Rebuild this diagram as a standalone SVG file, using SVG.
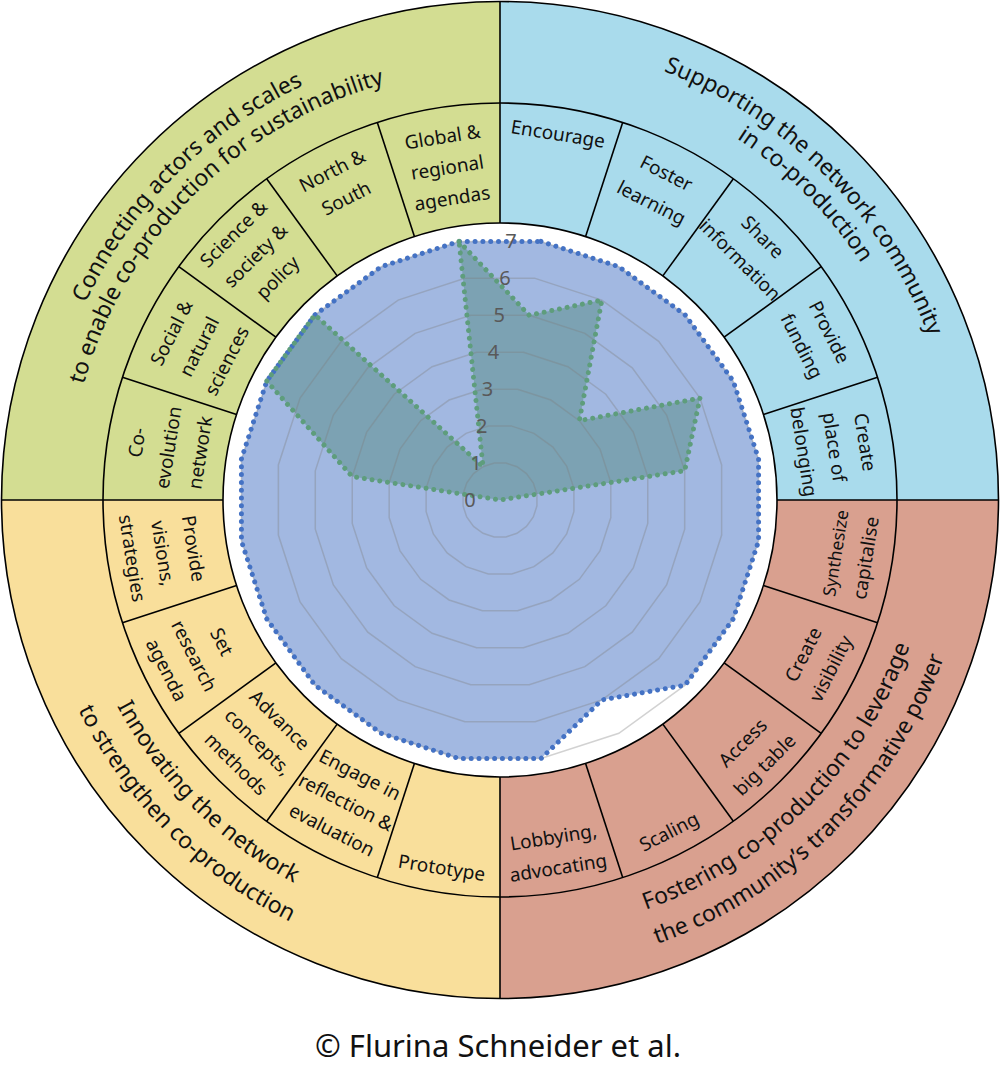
<svg xmlns="http://www.w3.org/2000/svg" width="1000" height="1067" viewBox="0 0 1000 1067">
<style>
text { font-family: "Noto Sans", "Open Sans", sans-serif; fill: #111; }
.seg { font-size: 19px; text-anchor: middle; }
.ttl { font-size: 23px; text-anchor: middle; }
.ax { font-size: 20px; fill: #595959; text-anchor: middle; }
.ring { fill: none; stroke: #000; stroke-width: 1.6; }
.div { stroke: #000; stroke-width: 1.6; }
.grid { fill: none; stroke: #7f7f7f; stroke-opacity: 0.35; stroke-width: 1.5; }
.dotb { fill: none; stroke: #4472c4; stroke-width: 5; stroke-dasharray: 0.01 7.8; stroke-linecap: round; }
.dotg { fill: none; stroke: #5e9d7c; stroke-width: 5; stroke-dasharray: 0.01 7.8; stroke-linecap: round; }
</style>
<defs>
<path id="p20" vector-effect="non-scaling-stroke" d="M15.643,-98.769 L45.399,-89.101 L70.711,-70.711 L89.101,-45.399 L98.769,-15.643 L98.769,15.643 L89.101,45.399 L70.711,70.711 L45.399,89.101 L15.643,98.769 L-15.643,98.769 L-45.399,89.101 L-70.711,70.711 L-89.101,45.399 L-98.769,15.643 L-98.769,-15.643 L-89.101,-45.399 L-70.711,-70.711 L-45.399,-89.101 L-15.643,-98.769 Z"/>
<line id="tk" x1="500" y1="223" x2="500" y2="103"/>
<line id="qd" x1="500" y1="223" x2="500" y2="1.5"/>
<path id="arcG1" d="M41,500 A459,459 0 0 1 500,41"/>
<path id="arcG2" d="M68,500 A432,432 0 0 1 500,68"/>
<path id="arcB1" d="M500,41 A459,459 0 0 1 959,500"/>
<path id="arcB2" d="M500,68 A432,432 0 0 1 932,500"/>
<path id="arcR1" d="M500,935 A435,435 0 0 0 935,500"/>
<path id="arcR2" d="M500,971 A471,471 0 0 0 971,500"/>
<path id="arcY1" d="M65,500 A435,435 0 0 0 500,935"/>
<path id="arcY2" d="M29,500 A471,471 0 0 0 500,971"/>
</defs>

<g id="quadrants">
<g id="q-connecting">
<path d="M500,500 L1.5,500 A498.5,498.5 0 0 1 500,1.5 Z" fill="#d3dd92"/>
<text class="ttl"><textPath href="#arcG1" startOffset="50%">Connecting actors and scales</textPath></text>
<text class="ttl"><textPath href="#arcG2" startOffset="50%">to enable co-production for sustainability</textPath></text>
</g>
<g id="q-supporting">
<path d="M500,500 L500,1.5 A498.5,498.5 0 0 1 998.5,500 Z" fill="#a9dbec"/>
<text class="ttl"><textPath href="#arcB1" startOffset="50%">Supporting the network community</textPath></text>
<text class="ttl"><textPath href="#arcB2" startOffset="50%">in co-production</textPath></text>
</g>
<g id="q-fostering">
<path d="M500,500 L998.5,500 A498.5,498.5 0 0 1 500,998.5 Z" fill="#d9a08f"/>
<text class="ttl"><textPath href="#arcR1" startOffset="50%">Fostering co-production to leverage</textPath></text>
<text class="ttl"><textPath href="#arcR2" startOffset="50%">the community’s transformative power</textPath></text>
</g>
<g id="q-innovating">
<path d="M500,500 L500,998.5 A498.5,498.5 0 0 1 1.5,500 Z" fill="#f9df9b"/>
<text class="ttl"><textPath href="#arcY1" startOffset="50%">Innovating the network</textPath></text>
<text class="ttl"><textPath href="#arcY2" startOffset="50%">to strengthen co-production</textPath></text>
</g>
</g>

<g id="rings">
<circle class="ring" cx="500" cy="500" r="498.5"/>
<circle class="ring" cx="500" cy="500" r="397"/>
<circle cx="500" cy="500" r="277" fill="#fff" stroke="#000" stroke-width="1.6"/>
<g class="div">
<use href="#qd"/>
<use href="#qd" transform="rotate(90 500 500)"/>
<use href="#qd" transform="rotate(180 500 500)"/>
<use href="#qd" transform="rotate(270 500 500)"/>
<use href="#tk" transform="rotate(18 500 500)"/>
<use href="#tk" transform="rotate(36 500 500)"/>
<use href="#tk" transform="rotate(54 500 500)"/>
<use href="#tk" transform="rotate(72 500 500)"/>
<use href="#tk" transform="rotate(108 500 500)"/>
<use href="#tk" transform="rotate(126 500 500)"/>
<use href="#tk" transform="rotate(144 500 500)"/>
<use href="#tk" transform="rotate(162 500 500)"/>
<use href="#tk" transform="rotate(198 500 500)"/>
<use href="#tk" transform="rotate(216 500 500)"/>
<use href="#tk" transform="rotate(234 500 500)"/>
<use href="#tk" transform="rotate(252 500 500)"/>
<use href="#tk" transform="rotate(288 500 500)"/>
<use href="#tk" transform="rotate(306 500 500)"/>
<use href="#tk" transform="rotate(324 500 500)"/>
<use href="#tk" transform="rotate(342 500 500)"/>
</g>
</g>

<g id="segments">
<g id="seg-global" transform="rotate(-9 500 500)"><text class="seg"><tspan x="500" y="139">Global &amp;</tspan><tspan x="500" y="170">regional</tspan><tspan x="500" y="201">agendas</tspan></text></g>
<g id="seg-northsouth" transform="rotate(-27 500 500)"><text class="seg"><tspan x="500" y="137">North &amp;</tspan><tspan x="500" y="168">South</tspan></text></g>
<g id="seg-science" transform="rotate(-45 500 500)"><text class="seg"><tspan x="500" y="130">Science &amp;</tspan><tspan x="500" y="161">society &amp;</tspan><tspan x="500" y="192">policy</tspan></text></g>
<g id="seg-social" transform="rotate(-63 500 500)"><text class="seg"><tspan x="500" y="138">Social &amp;</tspan><tspan x="500" y="169">natural</tspan><tspan x="500" y="200">sciences</tspan></text></g>
<g id="seg-coevolution" transform="rotate(-81 500 500)"><text class="seg"><tspan x="500" y="139">Co-</tspan><tspan x="500" y="171">evolution</tspan><tspan x="500" y="203">network</tspan></text></g>

<g id="seg-encourage" transform="rotate(9 500 500)"><text class="seg"><tspan x="500" y="136">Encourage</tspan></text></g>
<g id="seg-foster" transform="rotate(27 500 500)"><text class="seg"><tspan x="500" y="140">Foster</tspan><tspan x="500" y="173">learning</tspan></text></g>
<g id="seg-share" transform="rotate(45 500 500)"><text class="seg"><tspan x="500" y="135">Share</tspan><tspan x="500" y="167">information</tspan></text></g>
<g id="seg-funding" transform="rotate(63 500 500)"><text class="seg"><tspan x="500" y="137">Provide</tspan><tspan x="500" y="168">funding</tspan></text></g>
<g id="seg-belonging" transform="rotate(81 500 500)"><text class="seg"><tspan x="500" y="137">Create</tspan><tspan x="500" y="168">place of</tspan><tspan x="500" y="199">belonging</tspan></text></g>

<g id="seg-synthesize" transform="rotate(-81 500 500)"><text class="seg"><tspan x="500" y="846" style="font-size:17.5px">Synthesize</tspan><tspan x="500" y="877">capitalise</tspan></text></g>
<g id="seg-visibility" transform="rotate(-63 500 500)"><text class="seg"><tspan x="500" y="847">Create</tspan><tspan x="500" y="878">visibility</tspan></text></g>
<g id="seg-bigtable" transform="rotate(-45 500 500)"><text class="seg"><tspan x="500" y="850">Access</tspan><tspan x="500" y="881">big table</tspan></text></g>
<g id="seg-scaling" transform="rotate(-27 500 500)"><text class="seg"><tspan x="500" y="879">Scaling</tspan></text></g>
<g id="seg-lobbying" transform="rotate(-9 500 500)"><text class="seg"><tspan x="500" y="848">Lobbying,</tspan><tspan x="500" y="879">advocating</tspan></text></g>

<g id="seg-prototype" transform="rotate(9 500 500)"><text class="seg"><tspan x="500" y="879">Prototype</tspan></text></g>
<g id="seg-reflection" transform="rotate(27 500 500)"><text class="seg"><tspan x="500" y="815">Engage in</tspan><tspan x="500" y="846">reflection &amp;</tspan><tspan x="500" y="877">evaluation</tspan></text></g>
<g id="seg-concepts" transform="rotate(45 500 500)"><text class="seg"><tspan x="500" y="818">Advance</tspan><tspan x="500" y="849">concepts,</tspan><tspan x="500" y="880">methods</tspan></text></g>
<g id="seg-research" transform="rotate(63 500 500)"><text class="seg"><tspan x="500" y="819">Set</tspan><tspan x="500" y="850">research</tspan><tspan x="500" y="881">agenda</tspan></text></g>
<g id="seg-visions" transform="rotate(81 500 500)"><text class="seg"><tspan x="500" y="817">Provide</tspan><tspan x="500" y="848">visions,</tspan><tspan x="500" y="879">strategies</tspan></text></g>
</g>

<g id="radar">
<polygon id="series-blue" fill="#a2b8e1" points="540.95,241.42 618.85,266.73 685.12,314.88 733.27,381.15 758.58,459.05 758.58,540.95 733.27,618.85 685.12,685.12 601.88,699.94 540.95,758.58 459.05,758.58 381.15,733.27 314.88,685.12 266.73,618.85 241.42,540.95 241.42,459.05 266.73,381.15 314.88,314.88 381.15,266.73 459.05,241.42"/>
<polygon id="series-green" fill="#7ca2b3" points="459.05,241.42 529.25,315.30 601.88,300.06 579.34,420.66 699.94,398.12 684.70,470.75 500,500 352.24,476.60 266.73,381.15 314.88,314.88 483.02,466.68"/>
<g class="grid">
<use href="#p20" transform="translate(500 500) scale(0.374)"/>
<use href="#p20" transform="translate(500 500) scale(0.748)"/>
<use href="#p20" transform="translate(500 500) scale(1.122)"/>
<use href="#p20" transform="translate(500 500) scale(1.496)"/>
<use href="#p20" transform="translate(500 500) scale(1.87)"/>
<use href="#p20" transform="translate(500 500) scale(2.244)"/>
<use href="#p20" transform="translate(500 500) scale(2.618)"/>
</g>
<polygon class="dotb" points="540.95,241.42 618.85,266.73 685.12,314.88 733.27,381.15 758.58,459.05 758.58,540.95 733.27,618.85 685.12,685.12 601.88,699.94 540.95,758.58 459.05,758.58 381.15,733.27 314.88,685.12 266.73,618.85 241.42,540.95 241.42,459.05 266.73,381.15 314.88,314.88 381.15,266.73 459.05,241.42"/>
<polygon class="dotg" points="459.05,241.42 529.25,315.30 601.88,300.06 579.34,420.66 699.94,398.12 684.70,470.75 500,500 352.24,476.60 266.73,381.15 314.88,314.88 483.02,466.68"/>
<g id="axis-labels">
<text class="ax" x="470" y="507">0</text>
<text class="ax" x="475.9" y="470">1</text>
<text class="ax" x="481.7" y="433">2</text>
<text class="ax" x="487.6" y="396">3</text>
<text class="ax" x="493.4" y="359">4</text>
<text class="ax" x="499.3" y="322">5</text>
<text class="ax" x="505.1" y="285">6</text>
<text class="ax" x="511" y="248">7</text>
</g>
</g>

<g id="connectors"></g>

<text id="credit" x="498" y="1057" style="font-size:31px; text-anchor:middle">© Flurina Schneider et al.</text>
</svg>
